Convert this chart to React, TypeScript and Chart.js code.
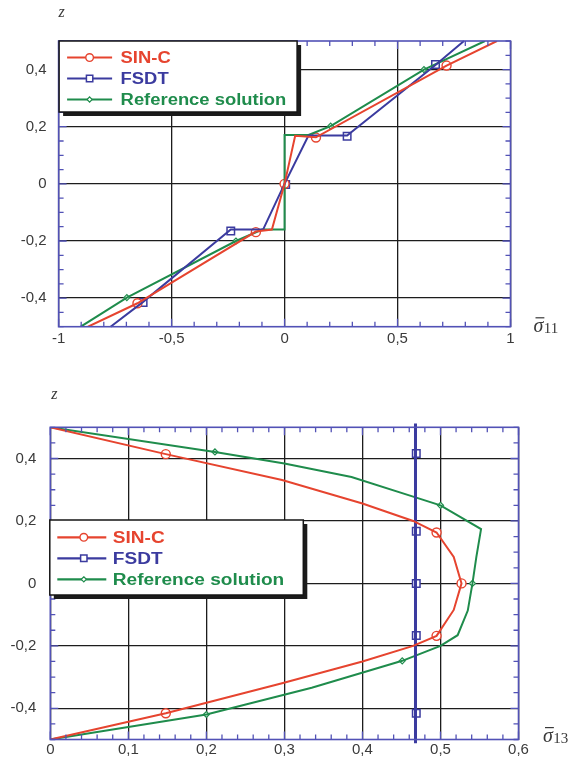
import React, { useEffect, useRef } from 'react';
import { Chart, registerables } from 'chart.js';

Chart.register(...registerables);

// ---------- Top chart: sigma_11 through the thickness ----------
const s11TickX = [-1, -0.5, 0, 0.5, 1];
const s11TickZ = [-0.4, -0.2, 0, 0.2, 0.4];

const s11SinCX = [-0.87, -0.651, -0.127, -0.056, 0, 0.047, 0.139, 0.717, 0.94];
const s11SinCZ = [-0.5, -0.418, -0.167, -0.16, 0, 0.168, 0.163, 0.414, 0.5];
const s11SinCMarkX = [-0.651, -0.127, 0, 0.139, 0.717];
const s11SinCMarkZ = [-0.418, -0.169, 0, 0.162, 0.414];

const s11FsdtX = [-0.77, -0.626, -0.238, -0.095, 0, 0.106, 0.277, 0.668, 0.794];
const s11FsdtZ = [-0.5, -0.413, -0.16, -0.16, 0, 0.169, 0.169, 0.416, 0.5];
const s11FsdtMarkX = [-0.626, -0.238, 0.005, 0.277, 0.668];
const s11FsdtMarkZ = [-0.415, -0.165, -0.002, 0.167, 0.418];

const s11RefX = [-0.902, -0.698, -0.215, -0.099, 0, 0, 0.106, 0.204, 0.617, 0.887];
const s11RefZ = [-0.5, -0.398, -0.2, -0.16, -0.16, 0.171, 0.171, 0.202, 0.4, 0.5];
const s11RefMarkX = [-0.698, -0.215, 0, 0.204, 0.617];
const s11RefMarkZ = [-0.398, -0.2, 0, 0.202, 0.4];

// ---------- Bottom chart: sigma_13 through the thickness ----------
const s13TickX = [0, 0.1, 0.2, 0.3, 0.4, 0.5, 0.6];
const s13TickZ = [-0.4, -0.2, 0, 0.2, 0.4];

const s13SinCX = [0, 0.148, 0.297, 0.4, 0.465, 0.495, 0.517, 0.527, 0.517, 0.495, 0.465, 0.4, 0.297, 0.148, 0];
const s13SinCZ = [0.5, 0.414, 0.331, 0.256, 0.2, 0.163, 0.085, 0, -0.085, -0.168, -0.2, -0.25, -0.32, -0.416, -0.5];
const s13SinCMarkX = [0.148, 0.495, 0.527, 0.495, 0.148];
const s13SinCMarkZ = [0.414, 0.163, 0, -0.168, -0.416];

const s13FsdtX = [0.468, 0.468];
const s13FsdtZ = [0.512, -0.512];
const s13FsdtMarkX = [0.469, 0.469, 0.469, 0.469, 0.469];
const s13FsdtMarkZ = [0.416, 0.167, 0, -0.167, -0.416];

const s13RefX = [0, 0.211, 0.3, 0.386, 0.466, 0.5, 0.552, 0.546, 0.541, 0.535, 0.522, 0.5, 0.451, 0.335, 0.2, 0];
const s13RefZ = [0.5, 0.421, 0.384, 0.341, 0.277, 0.25, 0.174, 0.085, 0, -0.087, -0.166, -0.2, -0.248, -0.334, -0.42, -0.5];
const s13RefMarkX = [0.211, 0.5, 0.541, 0.451, 0.2];
const s13RefMarkZ = [0.421, 0.25, 0, -0.248, -0.42];

const seriesLabels = ['SIN-C', 'FSDT', 'Reference solution'];

// ---------- styles ----------
const FRAME = '#5252b6';
const RED = '#e6442f';
const BLUE = '#3b3b9f';
const GREEN = '#1f8c4c';
const GRID = '#1c1c1c';
const TEXT = '#3a3a3a';
const SANS = '"Liberation Sans", Arial, Helvetica, sans-serif';
const SERIF = '"Liberation Serif", "DejaVu Serif", serif';

const pts = (xs: number[], zs: number[]) => xs.map((x, i) => ({ x, y: zs[i] }));

const fmt = (v: number) => {
  if (Math.abs(v) < 1e-9) return '0';
  return String(+v.toFixed(2)).replace('.', ',');
};

const framePlugin = {
  id: 'frame',
  afterDatasetsDraw(chart: any, _args: any, opts: any) {
    const { ctx, chartArea: a, scales } = chart;
    const sx = scales.x;
    const sy = scales.y;
    ctx.save();
    const minorLen = 5;
    const majorLen = 8;
    ctx.strokeStyle = FRAME;
    ctx.lineWidth = 1.3;
    ctx.beginPath();
    const nx = Math.round((sx.max - sx.min) / opts.xMinor);
    for (let i = 0; i <= nx; i++) {
      const v = sx.min + i * opts.xMinor;
      const major = opts.xMajor.some((m: number) => Math.abs(m - v) < 1e-6);
      const len = major ? majorLen : minorLen;
      const px = sx.getPixelForValue(v);
      ctx.moveTo(px, a.top);
      ctx.lineTo(px, a.top + len);
      ctx.moveTo(px, a.bottom);
      ctx.lineTo(px, a.bottom - len);
    }
    const ny = Math.round((sy.max - sy.min) / opts.yMinor);
    for (let i = 0; i <= ny; i++) {
      const v = sy.min + i * opts.yMinor;
      const major = opts.yMajor.some((m: number) => Math.abs(m - v) < 1e-6);
      const len = major ? majorLen : minorLen;
      const py = sy.getPixelForValue(v);
      ctx.moveTo(a.left, py);
      ctx.lineTo(a.left + len, py);
      ctx.moveTo(a.right, py);
      ctx.lineTo(a.right - len, py);
    }
    ctx.stroke();
    ctx.lineWidth = 1.6;
    ctx.strokeRect(a.left, a.top, a.right - a.left, a.bottom - a.top);
    ctx.restore();
  },
};

function drawMarker(ctx: CanvasRenderingContext2D, style: string, x: number, y: number, r: number) {
  ctx.beginPath();
  if (style === 'circle') {
    ctx.arc(x, y, r, 0, Math.PI * 2);
  } else if (style === 'rect') {
    const s = r * Math.SQRT1_2;
    ctx.rect(x - s, y - s, 2 * s, 2 * s);
  } else {
    ctx.moveTo(x, y - r);
    ctx.lineTo(x + r, y);
    ctx.lineTo(x, y + r);
    ctx.lineTo(x - r, y);
    ctx.closePath();
  }
  ctx.fill();
  ctx.stroke();
}

const legendPlugin = {
  id: 'boxLegend',
  afterDraw(chart: any, _args: any, o: any) {
    const { ctx, chartArea: a } = chart;
    const bx = a.left + o.dx;
    const by = a.top + o.dy;
    ctx.save();
    ctx.fillStyle = '#1b1b1b';
    ctx.fillRect(bx + 4, by + 4, o.w, o.h);
    ctx.fillStyle = '#ffffff';
    ctx.fillRect(bx, by, o.w, o.h);
    ctx.strokeStyle = '#151515';
    ctx.lineWidth = 1.5;
    ctx.strokeRect(bx, by, o.w, o.h);
    const ds = chart.data.datasets;
    for (let i = 0; i < 3; i++) {
      const line = ds[i];
      const mark = ds[i + 3];
      const yy = by + o.row0 + i * o.rowGap;
      ctx.strokeStyle = line.borderColor;
      ctx.lineWidth = 2.2;
      ctx.beginPath();
      ctx.moveTo(bx + o.lineX0, yy);
      ctx.lineTo(bx + o.lineX1, yy);
      ctx.stroke();
      ctx.fillStyle = '#ffffff';
      ctx.strokeStyle = mark.borderColor;
      ctx.lineWidth = mark.borderWidth;
      drawMarker(ctx, mark.pointStyle, bx + o.markX, yy, mark.pointRadius * 0.85);
      ctx.save();
      ctx.translate(bx + o.textX, yy);
      ctx.scale(o.stretch, 1);
      ctx.font = 'bold 16px ' + SANS;
      ctx.fillStyle = line.borderColor;
      ctx.textBaseline = 'middle';
      ctx.textAlign = 'left';
      ctx.fillText(line.label, 0, 1);
      ctx.restore();
    }
    ctx.restore();
  },
};

const titlePlugin = {
  id: 'axisTitles',
  afterDraw(chart: any, _args: any, o: any) {
    const { ctx, chartArea: a } = chart;
    ctx.save();
    ctx.fillStyle = TEXT;
    ctx.textBaseline = 'alphabetic';
    ctx.textAlign = 'left';
    // z title
    ctx.font = 'italic 16px ' + SERIF;
    ctx.fillText('z', a.left + o.zdx, a.top + o.zdy);
    // sigma bar title
    const sx = a.right + o.sdx;
    const sb = a.bottom + o.sdy;
    ctx.font = 'italic 20px ' + SERIF;
    ctx.fillText('σ', sx, sb);
    const w = ctx.measureText('σ').width;
    ctx.fillRect(sx + 2, sb - 15, w - 1, 1.2);
    ctx.font = '15px ' + SERIF;
    ctx.fillText(o.sub, sx + w + 0.5, sb + 1);
    ctx.restore();
  },
};

function makeConfig(p: any) {
  const lineDs = (label: string, data: any, color: string, width: number, clip: any) => ({
    label,
    data,
    borderColor: color,
    backgroundColor: color,
    borderWidth: width,
    showLine: true,
    pointRadius: 0,
    tension: 0,
    clip,
  });
  const markDs = (label: string, data: any, color: string, style: string, r: number, bw: number) => ({
    label,
    data,
    showLine: false,
    borderColor: color,
    backgroundColor: '#ffffff',
    pointStyle: style,
    pointRadius: r,
    borderWidth: bw,
    clip: false,
  });
  return {
    type: 'scatter',
    data: {
      datasets: [
        lineDs(seriesLabels[0], p.red, RED, 2, 0),
        lineDs(seriesLabels[1], p.blue, BLUE, p.blueWidth, false),
        lineDs(seriesLabels[2], p.green, GREEN, 2, 0),
        markDs(seriesLabels[0], p.redM, RED, 'circle', 4.5, 1.4),
        markDs(seriesLabels[1], p.blueM, BLUE, 'rect', 5.3, 1.5),
        markDs(seriesLabels[2], p.greenM, GREEN, 'rectRot', 3, 1.2),
      ],
    },
    options: {
      responsive: false,
      animation: false,
      events: [],
      layout: { padding: p.padding },
      scales: {
        x: {
          type: 'linear',
          min: p.xMin,
          max: p.xMax,
          afterFit: (s: any) => { s.height = p.xAxisH; },
          afterBuildTicks: (s: any) => { s.ticks = p.xTicks.map((v: number) => ({ value: v })); },
          grid: { color: GRID, lineWidth: 1.3, drawTicks: false },
          border: { display: false },
          ticks: {
            color: TEXT,
            font: { family: SANS, size: 15 },
            padding: p.xPad,
            maxRotation: 0,
            autoSkip: false,
            callback: (v: any) => fmt(Number(v)),
          },
        },
        y: {
          type: 'linear',
          min: -0.5,
          max: 0.5,
          afterFit: (s: any) => { s.width = p.yAxisW; },
          afterBuildTicks: (s: any) => { s.ticks = p.yTicks.map((v: number) => ({ value: v })); },
          grid: { color: GRID, lineWidth: 1.3, drawTicks: false },
          border: { display: false },
          ticks: {
            color: TEXT,
            font: { family: SANS, size: 15 },
            padding: p.yPad,
            autoSkip: false,
            callback: (v: any) => fmt(Number(v)),
          },
        },
      },
      plugins: {
        legend: { display: false },
        tooltip: { enabled: false },
        frame: { xMinor: p.xMinor, yMinor: 0.05, xMajor: p.xTicks, yMajor: p.yTicks },
        boxLegend: p.legend,
        axisTitles: p.titles,
      },
    },
    plugins: [framePlugin, legendPlugin, titlePlugin],
  };
}

const TOP_H = 360;
const BOT_H = 403;

function ChartCanvas({ config, top, height }: { config: any; top: number; height: number }) {
  const ref = useRef<HTMLCanvasElement>(null);
  useEffect(() => {
    const chart = new Chart(ref.current as HTMLCanvasElement, config);
    return () => chart.destroy();
  }, []);
  return (
    <canvas
      ref={ref}
      width={574}
      height={height}
      style={{ position: 'absolute', left: 0, top, width: 574, height, display: 'block' }}
    />
  );
}

export default function App() {
  const topConfig = makeConfig({
    red: pts(s11SinCX, s11SinCZ),
    blue: pts(s11FsdtX, s11FsdtZ),
    green: pts(s11RefX, s11RefZ),
    redM: pts(s11SinCMarkX, s11SinCMarkZ),
    blueM: pts(s11FsdtMarkX, s11FsdtMarkZ),
    greenM: pts(s11RefMarkX, s11RefMarkZ),
    blueWidth: 2,
    xMin: -1,
    xMax: 1,
    xTicks: s11TickX,
    yTicks: s11TickZ,
    xMinor: 0.1,
    padding: { left: 0, right: 63.5, top: 41, bottom: TOP_H - 326.7 - 20 },
    xAxisH: 20,
    yAxisW: 58.6,
    xPad: 3,
    yPad: 12,
    legend: { dx: 0.5, dy: 0, w: 238, h: 71, row0: 16.5, rowGap: 21, lineX0: 8, lineX1: 53, markX: 30.5, textX: 61.5, stretch: 1.15 },
    titles: { zdx: 0, zdy: -24.5, sdx: 23, sdy: 5.5, sub: '11' },
  });
  const botConfig = makeConfig({
    red: pts(s13SinCX, s13SinCZ),
    blue: pts(s13FsdtX, s13FsdtZ),
    green: pts(s13RefX, s13RefZ),
    redM: pts(s13SinCMarkX, s13SinCMarkZ),
    blueM: pts(s13FsdtMarkX, s13FsdtMarkZ),
    greenM: pts(s13RefMarkX, s13RefMarkZ),
    blueWidth: 3,
    xMin: 0,
    xMax: 0.6,
    xTicks: s13TickX,
    yTicks: s13TickZ,
    xMinor: 0.02,
    padding: { left: 0, right: 55.5, top: 67.3, bottom: BOT_H - 379.5 - 18 },
    xAxisH: 18,
    yAxisW: 50.3,
    xPad: 1,
    yPad: 14,
    legend: { dx: -0.5, dy: 92.7, w: 253.5, h: 75, row0: 17.3, rowGap: 21, lineX0: 7.5, lineX1: 56.5, markX: 34, textX: 63, stretch: 1.19 },
    titles: { zdx: 1, zdy: -28.5, sdx: 24.5, sdy: 2.5, sub: '13' },
  });
  return (
    <div style={{ position: 'absolute', left: 0, top: 0, width: 574, height: 763, background: '#ffffff' }}>
      <ChartCanvas config={topConfig} top={0} height={TOP_H} />
      <ChartCanvas config={botConfig} top={TOP_H} height={BOT_H} />
    </div>
  );
}
